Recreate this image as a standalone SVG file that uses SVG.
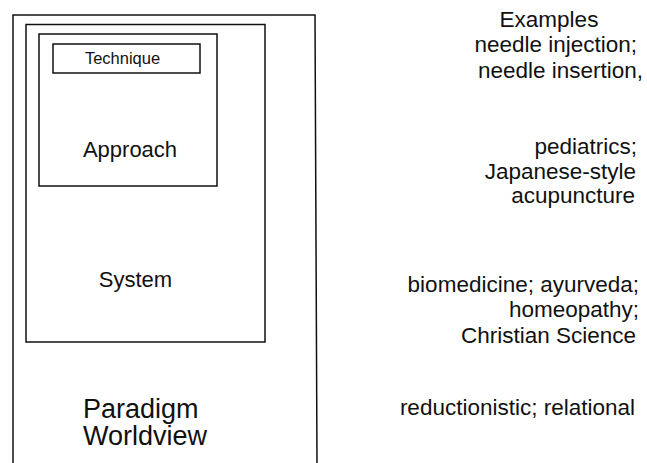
<svg xmlns="http://www.w3.org/2000/svg" width="647" height="463" viewBox="0 0 647 463">
<style>
  .box { fill: none; stroke: #111; stroke-width: 1.5; }
  .t { font-family: "Liberation Sans", Arial, sans-serif; fill: #111; }
  .mid { text-anchor: middle; }
  .end { text-anchor: end; }
  .ex { font-size: 22.5px; text-anchor: end; }
</style>
<rect width="647" height="463" fill="#fff"/>
<g id="paradigm">
  <path class="box" d="M13,463 V15 H315 L317,463"/>
  <text class="t" x="83" y="418" font-size="27">Paradigm</text>
  <text class="t" x="83" y="445" font-size="27">Worldview</text>
</g>
<g id="system">
  <rect class="box" x="26" y="24.5" width="239" height="317.5"/>
  <text class="t mid" x="135.5" y="287" font-size="22">System</text>
</g>
<g id="approach">
  <rect class="box" x="39" y="34" width="178" height="152"/>
  <text class="t mid" x="130" y="157" font-size="22">Approach</text>
</g>
<g id="technique">
  <rect class="box" x="53" y="44" width="147" height="29"/>
  <text class="t mid" x="122.5" y="63.5" font-size="16.5">Technique</text>
</g>
<g id="connectors"/>
<g id="examples">
  <text class="t mid" x="549" y="27" font-size="22.5">Examples</text>
  <text class="t ex" x="637" y="52">needle injection;</text>
  <text class="t ex" x="643" y="78">needle insertion,</text>
  <text class="t ex" x="637" y="154">pediatrics;</text>
  <text class="t ex" x="636" y="179">Japanese-style</text>
  <text class="t ex" x="635" y="203">acupuncture</text>
  <text class="t ex" x="639" y="292">biomedicine; ayurveda;</text>
  <text class="t ex" x="639" y="317">homeopathy;</text>
  <text class="t ex" x="636" y="343">Christian Science</text>
  <text class="t ex" x="635" y="415">reductionistic; relational</text>
</g>
</svg>
